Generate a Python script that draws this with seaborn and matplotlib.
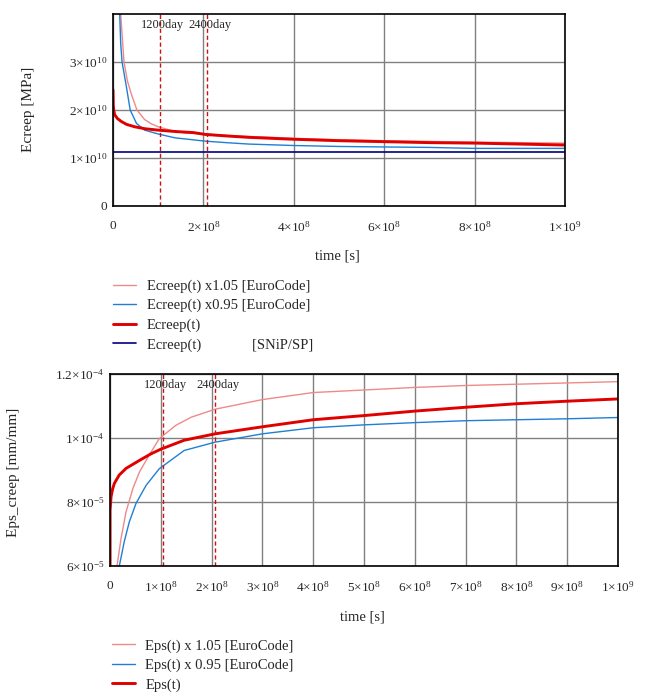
import numpy as np
import pandas as pd
import matplotlib
matplotlib.use("Agg")
import matplotlib.pyplot as plt
from matplotlib.ticker import FuncFormatter, MultipleLocator
import seaborn as sns

# ---- top chart: Ecreep(t) ----
t_e105 = [1e7, 1.7e7, 2.43e7, 3.2e7, 4.05e7, 5.3e7, 7e7, 8.5e7, 1e8, 1.3e8, 1.6e8, 2.05e8,
          2.5e8, 3e8, 4e8, 5e8, 6e8, 7e8, 8e8, 9e8, 1e9]
ecreep_105 = [5.6e10, 4.0e10, 3.0e10, 2.6e10, 2.33e10, 2.0e10, 1.8e10, 1.71e10, 1.65e10,
              1.57e10, 1.52e10, 1.5e10, 1.47e10, 1.45e10, 1.41e10, 1.38e10, 1.36e10,
              1.345e10, 1.33e10, 1.32e10, 1.31e10]

t_e095 = [1e7, 1.48e7, 1.7e7, 2.0e7, 2.95e7, 3.8e7, 5.2e7, 7e7, 1e8, 1.37e8, 2.05e8, 2.5e8,
          3e8, 4e8, 5e8, 6e8, 7e8, 8e8, 9e8, 1e9]
ecreep_095 = [5.0e10, 4.0e10, 3.39e10, 3.0e10, 2.49e10, 2.0e10, 1.72e10, 1.58e10, 1.5e10,
              1.42e10, 1.35e10, 1.32e10, 1.29e10, 1.26e10, 1.24e10, 1.23e10, 1.22e10,
              1.20e10, 1.20e10, 1.20e10]

t_e = [0, 5e5, 1.5e6, 3.7e6, 1e7, 1.85e7, 3e7, 4.8e7, 7e7, 1e8, 1.4e8, 1.77e8, 2.05e8,
       2.5e8, 3e8, 3.5e8, 4e8, 5e8, 6e8, 7e8, 8e8, 9e8, 1e9]
ecreep = [2.42e10, 2.1e10, 2.0e10, 1.9e10, 1.82e10, 1.76e10, 1.7e10, 1.65e10, 1.61e10,
          1.58e10, 1.55e10, 1.53e10, 1.49e10, 1.46e10, 1.43e10, 1.41e10, 1.39e10, 1.36e10,
          1.34e10, 1.32e10, 1.31e10, 1.29e10, 1.27e10]

t_snip = [0, 1e9]
ecreep_snip = [1.13e10, 1.13e10]

# ---- bottom chart: Eps(t) ----
t_p105 = [1.38e7, 2.17e7, 3.15e7, 4.5e7, 5.8e7, 7.7e7, 9.7e7, 1.3e8, 1.6e8, 2.07e8, 3e8,
          4e8, 5e8, 6e8, 7e8, 8e8, 9e8, 1e9]
eps_105 = [6.0e-5, 6.86e-5, 7.69e-5, 8.42e-5, 8.94e-5, 9.46e-5, 9.98e-5, 1.04e-4, 1.065e-4,
           1.09e-4, 1.12e-4, 1.142e-4, 1.150e-4, 1.158e-4, 1.164e-4, 1.168e-4, 1.172e-4,
           1.176e-4]

t_p095 = [1.83e7, 2.8e7, 3.8e7, 5.1e7, 7.1e7, 9.7e7, 1.46e8, 2.07e8, 3e8, 4e8, 5e8, 6e8,
          7e8, 8e8, 9e8, 1e9]
eps_095 = [6.0e-5, 6.76e-5, 7.38e-5, 7.95e-5, 8.52e-5, 9.04e-5, 9.61e-5, 9.87e-5, 1.013e-4,
           1.032e-4, 1.041e-4, 1.048e-4, 1.054e-4, 1.057e-4, 1.060e-4, 1.064e-4]

t_p = [0, 0, 2e6, 5e6, 8.5e6, 1.8e7, 3.15e7, 5.8e7, 8e7, 1e8, 1.46e8, 2.07e8, 3e8, 4e8,
       5e8, 6e8, 7e8, 8e8, 9e8, 1e9]
eps = [5.9e-5, 7.74e-5, 8.16e-5, 8.4e-5, 8.58e-5, 8.84e-5, 9.05e-5, 9.3e-5, 9.5e-5, 9.65e-5,
       9.93e-5, 1.013e-4, 1.035e-4, 1.057e-4, 1.070e-4, 1.084e-4, 1.096e-4, 1.107e-4,
       1.115e-4, 1.122e-4]

day_marks = [1200, 2400]

sns.set_style("white")
plt.rcParams["font.family"] = ["Liberation Serif", "DejaVu Serif"]
plt.rcParams["mathtext.default"] = "regular"

PINK = "#EE8A8A"
BLUE = "#1F7FD6"
RED = "#E00000"
NAVY = "#000080"


def sci(v, pos):
    if v == 0:
        return "0"
    e = int(np.floor(np.log10(abs(v)) + 1e-9))
    m = v / 10.0 ** e
    ms = f"{m:.1f}".rstrip("0").rstrip(".")
    return r"$%s{\times}10^{%d}$" % (ms, e)


def style_axes(ax, xlab, ylab):
    ax.grid(True, color="#808080", lw=1)
    for s in ax.spines.values():
        s.set_color("black")
        s.set_linewidth(1.2)
    ax.xaxis.set_major_formatter(FuncFormatter(sci))
    ax.yaxis.set_major_formatter(FuncFormatter(sci))
    ax.tick_params(labelsize=9.5, length=0)
    ax.tick_params(axis="x", pad=10)
    ax.tick_params(axis="y", pad=4)
    ax.set_xlabel(xlab, fontsize=10.5)
    ax.set_ylabel(ylab, fontsize=11)


def day_lines(ax):
    for d in day_marks:
        t = d * 86400
        ax.axvline(t, color="#D01010", lw=1, ls=(0, (3, 2)))
        ax.annotate(f"{d}day", xy=(t, 0.945), xycoords=("data", "axes fraction"),
                    xytext=(2, 0), textcoords="offset points",
                    ha="center", va="center", fontsize=9)


fig = plt.figure(figsize=(6.51, 6.95), dpi=100)
ax1 = fig.add_axes([0.1736, 0.7036, 0.6943, 0.2763])
ax2 = fig.add_axes([0.1690, 0.1856, 0.7803, 0.2763])

leg_kw = dict(bbox_transform=fig.transFigure, loc="upper left", frameon=False,
              fontsize=10.5, borderpad=0, borderaxespad=0, handlelength=1.6,
              handletextpad=0.7, labelspacing=0.42)

# top
top = [
    (t_e105, ecreep_105, PINK, 1.0, "Ecreep(t) x1.05 [EuroCode]"),
    (t_e095, ecreep_095, BLUE, 1.0, "Ecreep(t) x0.95 [EuroCode]"),
    (t_e, ecreep, RED, 2.1, "Ecreep(t)"),
    (t_snip, ecreep_snip, NAVY, 1.2, "Ecreep(t)              [SNiP/SP]"),
]
for t, v, c, lw, lab in top:
    df = pd.DataFrame({"t": t, "v": v})
    sns.lineplot(data=df, x="t", y="v", ax=ax1, color=c, lw=lw, label=lab,
                 estimator=None, sort=False)
ax1.set_xlim(0, 1e9)
ax1.set_ylim(0, 4e10)
ax1.xaxis.set_major_locator(MultipleLocator(2e8))
ax1.set_yticks([0, 1e10, 2e10, 3e10])
style_axes(ax1, "time [s]", "Ecreep [MPa]")
day_lines(ax1)
ax1.xaxis.set_label_coords(0.496, -0.225)
ax1.yaxis.set_label_coords(-0.172, 0.505)
h, l = ax1.get_legend_handles_labels()
ax1.legend(h, l, bbox_to_anchor=(0.1736, 0.598), **leg_kw)

# bottom
bot = [
    (t_p105, eps_105, PINK, 1.0, "Eps(t) x 1.05 [EuroCode]"),
    (t_p095, eps_095, BLUE, 1.0, "Eps(t) x 0.95 [EuroCode]"),
    (t_p, eps, RED, 2.1, "Eps(t)"),
]
for t, v, c, lw, lab in bot:
    df = pd.DataFrame({"t": t, "v": v})
    sns.lineplot(data=df, x="t", y="v", ax=ax2, color=c, lw=lw, label=lab,
                 estimator=None, sort=False)
ax2.set_xlim(0, 1e9)
ax2.set_ylim(6e-5, 1.2e-4)
ax2.xaxis.set_major_locator(MultipleLocator(1e8))
ax2.set_yticks([6e-5, 8e-5, 1e-4, 1.2e-4])
style_axes(ax2, "time [s]", "Eps_creep [mm/mm]")
day_lines(ax2)
ax2.xaxis.set_label_coords(0.496, -0.23)
ax2.yaxis.set_label_coords(-0.177, 0.49)
h, l = ax2.get_legend_handles_labels()
ax2.legend(h, l, bbox_to_anchor=(0.1715, 0.0805), **leg_kw)

fig.savefig("out.png", dpi=100)
